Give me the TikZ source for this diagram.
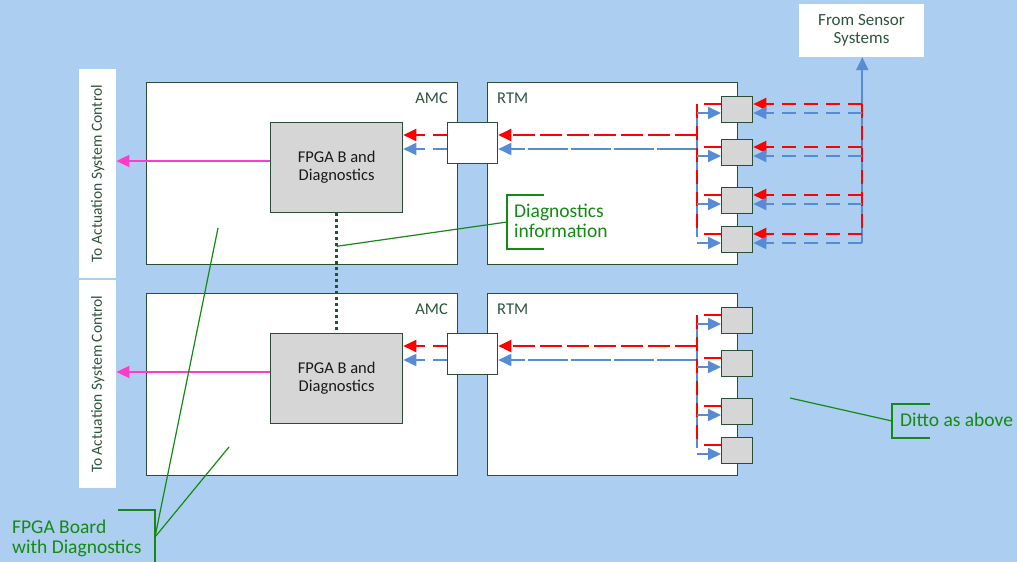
\documentclass[tikz,border=0pt]{standalone}
\usepackage{fontspec}
\setmainfont{Carlito}
\usetikzlibrary{arrows.meta,calc}
\definecolor{bgc}{RGB}{172,206,240}
\definecolor{boxc}{RGB}{40,78,56}
\definecolor{txtc}{RGB}{44,84,62}
\definecolor{gfill}{RGB}{214,214,214}
\definecolor{redc}{RGB}{255,0,0}
\definecolor{bluec}{RGB}{86,140,214}
\definecolor{pinkc}{RGB}{255,60,200}
\definecolor{greenc}{RGB}{20,138,20}
\begin{document}
\begin{tikzpicture}[x=1pt,y=-1pt,
  board/.style={draw=boxc,line width=1.3pt,fill=white,anchor=north west,inner sep=0pt},
  chip/.style={board,fill=gfill,text=black!90,align=center,font=\fontsize{16.5}{18}\selectfont},
  port/.style={board,fill=gfill,minimum width=31pt,minimum height=26pt},
  tagbox/.style={fill=white,anchor=north west,inner sep=0pt},
  lbl/.style={text=txtc,inner sep=0pt,font=\fontsize{16.5}{18}\selectfont},
  note/.style={text=greenc,inner sep=0pt,align=left,font=\fontsize{19.5}{20}\selectfont},
  call/.style={draw=greenc,line width=1.2pt},
  tip/.style={-{Triangle[length=13pt,width=12pt]}},
  redd/.style={draw=redc,line width=2pt,dash pattern=on 14pt off 8pt},
  blued/.style={draw=bluec,line width=1.8pt,dash pattern=on 14pt off 8pt},
]
\fill[bgc] (0,0) rectangle (1017,562);
\useasboundingbox (0,0) rectangle (1017,562);

% boards
\node[board,minimum width=311pt,minimum height=182pt] (amc1) at (146,82) {};
\node[board,minimum width=250pt,minimum height=182pt] (rtm1) at (487,82) {};
\node[board,minimum width=311pt,minimum height=182pt] (amc2) at (146,293) {};
\node[board,minimum width=250pt,minimum height=182pt] (rtm2) at (487,293) {};
\node[lbl,anchor=base east] (amct1) at (448,103) {AMC};
\node[lbl,anchor=base west] (rtmt1) at (497,103) {RTM};
\node[lbl,anchor=base east] (amct2) at (448,314) {AMC};
\node[lbl,anchor=base west] (rtmt2) at (497,314) {RTM};

% chips and connectors
\node[chip,minimum width=132pt,minimum height=90pt] (fpga1) at (270,122) {FPGA B and\\Diagnostics};
\node[chip,minimum width=132pt,minimum height=90pt] (fpga2) at (270,333) {FPGA B and\\Diagnostics};
\node[board,minimum width=50pt,minimum height=41pt] (conn1) at (447,122) {};
\node[board,minimum width=50pt,minimum height=41pt] (conn2) at (447,333) {};
\foreach \r/\y in {11/96,12/139,13/187,14/226,21/307,22/350,23/398,24/437}
  \node[port] (s\r) at (721,\y) {};

% side labels
\node[tagbox,minimum width=37pt,minimum height=209pt] (lab1) at (79,69) {};
\node[tagbox,minimum width=37pt,minimum height=208pt] (lab2) at (79,280) {};
\node[lbl,rotate=90,font=\fontsize{15.5}{16}\selectfont] (labt1) at (lab1.center) {To Actuation System Control};
\node[lbl,rotate=90,font=\fontsize{15.5}{16}\selectfont] (labt2) at (lab2.center) {To Actuation System Control};

\node[fill=white,minimum width=125pt,minimum height=53pt,inner sep=0pt,text=txtc,align=center,font=\fontsize{17}{18}\selectfont] (sens) at (861.5,30.5) {From Sensor\\Systems};

% dotted diagnostics link
\draw[boxc,line width=3pt,dash pattern=on 3pt off 3pt] (fpga1.south) -- (fpga2.north);

\foreach \k in {1,2} {
  \coordinate (rb\k) at ($(rtm\k.north west)+(210,53)$);
  \coordinate (bb\k) at ($(rtm\k.north west)+(210,67)$);
  \draw[redd,dash pattern=on 22pt off 5pt,tip] (rb\k) -- (rb\k -| conn\k.east);
  \draw[bluec,line width=1.8pt,dash pattern=on 40pt off 3pt,tip] (bb\k) -- (bb\k -| conn\k.east);
  \draw[redd,tip] (rb\k -| conn\k.west) -- (rb\k -| fpga\k.east);
  \draw[blued,tip] (bb\k -| conn\k.west) -- (bb\k -| fpga\k.east);
  \coordinate (pk\k) at ($(fpga\k.north west)+(0,39)$);
  \draw[pinkc,line width=1.8pt,tip] (pk\k) -- (pk\k -| lab\k.east);
  \draw[blued] ($(s\k1.north west)+(-24,17)$) -- ($(s\k4.north west)+(-24,17)$);
  \draw[redd] ($(s\k1.north west)+(-24,8)$) -- ($(s\k4.north west)+(-24,8)$);
  \foreach \j in {1,...,4} {
    \draw[redc,line width=2pt] ($(s\k\j.north west)+(-17,8)$) -- ($(s\k\j.north west)+(0,8)$);
    \draw[bluec,line width=1.8pt,tip] ($(s\k\j.north west)+(-24,17)$) -- ($(s\k\j.north west)+(0,17)$);
  }
}

% sensor side
\coordinate (sb) at ($(s14.north east)+(109,17)$);
\draw[bluec,line width=2pt,tip] (sb) -- (sb |- sens.south);
\draw[redd] ($(s11.north east)+(109,8)$) -- ($(s14.north east)+(109,8)$);
\foreach \j in {1,...,4} {
  \draw[redd,tip] ($(s1\j.north east)+(109,8)$) -- ($(s1\j.north east)+(0,8)$);
  \draw[blued,tip] ($(s1\j.north east)+(109,17)$) -- ($(s1\j.north east)+(0,17)$);
}

% callouts
\node[note,anchor=west] (diag) at (514,221) {Diagnostics\\information};
\coordinate (dl) at ($(fpga1.south)+(0,33)$);
\draw[call] (544,195) -- (507,195) -- (507,249) -- (544,249);
\draw[call] (507,222) -- (dl);

\node[note,anchor=base west] (ditto) at (900,426) {Ditto as above};
\draw[call] (930,404) -- (892,404) -- (892,438) -- (930,438);
\draw[call] (892,421) -- (790,398);

\node[note,anchor=west] (fbd) at (12,538) {FPGA Board\\with Diagnostics};
\draw[call] (118,510) -- (155,510) -- (155,566);
\draw[call] (155,537) -- (229,447);
\draw[call] (155,537) -- (218,228);
\end{tikzpicture}
\end{document}
